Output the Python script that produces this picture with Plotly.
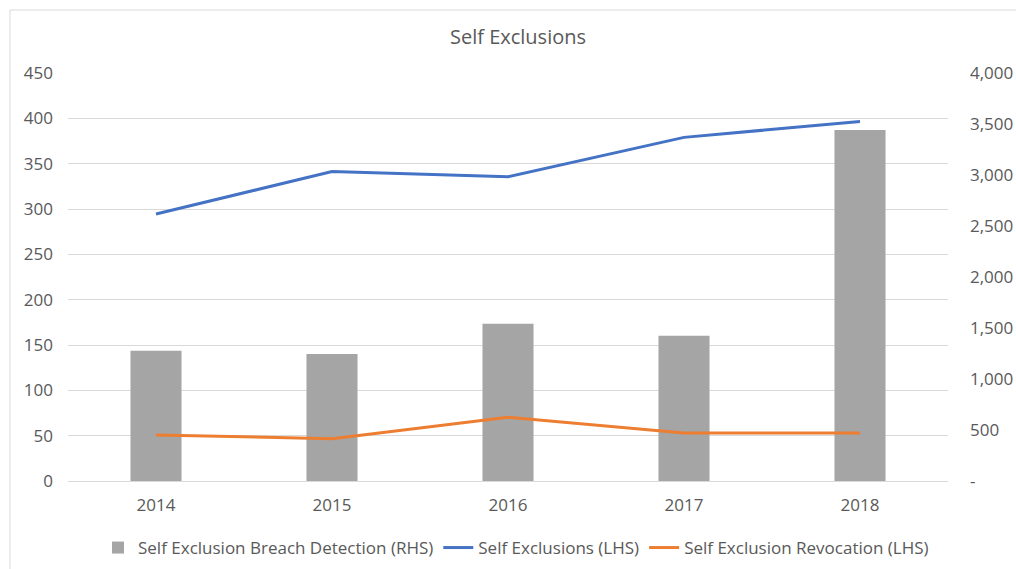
import plotly.graph_objects as go

years = ["2014", "2015", "2016", "2017", "2018"]
breach_detection_rhs = [1277, 1245, 1542, 1425, 3441]
self_exclusions_lhs = [294.4, 341.4, 335.5, 379.0, 396.6]
revocation_lhs = [50.8, 46.7, 70.3, 53.0, 53.0]

rhs_ticks = [0, 500, 1000, 1500, 2000, 2500, 3000, 3500, 4000]
rhs_ticktext = ["-", "500", "1,000", "1,500", "2,000", "2,500", "3,000", "3,500", "4,000"]
lhs_ticks = [0, 50, 100, 150, 200, 250, 300, 350, 400, 450]

W, H = 1016, 569
L, T = 68, 73
R = W - 948
B = H - 481
pw, ph = W - L - R, H - T - B

def px_x(x):  # screen x -> paper
    return (x - L) / pw

def px_y(y):  # screen y -> paper
    return (H - B - y) / ph

txt = "#595959"
font = "Open Sans, Noto Sans, sans-serif"

fig = go.Figure()
fig.add_trace(go.Bar(
    x=years, y=breach_detection_rhs, name="Self Exclusion Breach Detection (RHS)",
    marker=dict(color="#A5A5A5", line=dict(width=0)), width=0.29, yaxis="y"))
fig.add_trace(go.Scatter(
    x=years, y=self_exclusions_lhs, name="Self Exclusions (LHS)", mode="lines",
    line=dict(color="#4472C4", width=3), yaxis="y2"))
fig.add_trace(go.Scatter(
    x=years, y=revocation_lhs, name="Self Exclusion Revocation (LHS)", mode="lines",
    line=dict(color="#ED7D31", width=3), yaxis="y2"))

fig.update_layout(
    width=W, height=H,
    margin=dict(l=L, r=R, t=T, b=B, autoexpand=False),
    paper_bgcolor="white", plot_bgcolor="white",
    font=dict(family=font, size=17, color=txt),
    title=dict(text="Self Exclusions", x=px_x(518), xref="paper", xanchor="center",
               y=1 - 37 / H, yref="container", yanchor="middle",
               font=dict(size=20, color=txt, family=font)),
    xaxis=dict(type="category", showgrid=False, showline=False, ticks="",
               ticklabelstandoff=12, tickfont=dict(size=17, color=txt)),
    yaxis=dict(side="right", range=[0, 4000], tickvals=rhs_ticks, ticktext=rhs_ticktext,
               showgrid=False, zeroline=False, showline=False, ticks="",
               ticklabelstandoff=21, tickfont=dict(size=17, color=txt)),
    yaxis2=dict(side="left", overlaying="y", range=[0, 450], tickvals=lhs_ticks,
                showgrid=True, gridcolor="#D9D9D9", gridwidth=1, zeroline=True,
                zerolinecolor="#D9D9D9", zerolinewidth=1, showline=False, ticks="",
                ticklabelstandoff=14, tickfont=dict(size=17, color=txt)),
    legend=dict(orientation="h", x=px_x(516), xanchor="center", y=px_y(548),
                yanchor="middle", font=dict(size=17, color=txt, family=font),
                bgcolor="rgba(0,0,0,0)", itemwidth=30, tracegroupgap=0),
    showlegend=True,
    shapes=[
        dict(type="line", xref="paper", yref="paper", x0=px_x(10), x1=px_x(10),
             y0=px_y(10), y1=px_y(600), line=dict(color="#D9D9D9", width=1), layer="above"),
        dict(type="line", xref="paper", yref="paper", x0=px_x(10), x1=px_x(1030),
             y0=px_y(10), y1=px_y(10), line=dict(color="#D9D9D9", width=1), layer="above"),
    ],
)

fig.write_html(
    "out.html",
    config={"displayModeBar": False},
    post_script="document.body.style.margin='0';document.body.style.overflow='hidden';",
)
